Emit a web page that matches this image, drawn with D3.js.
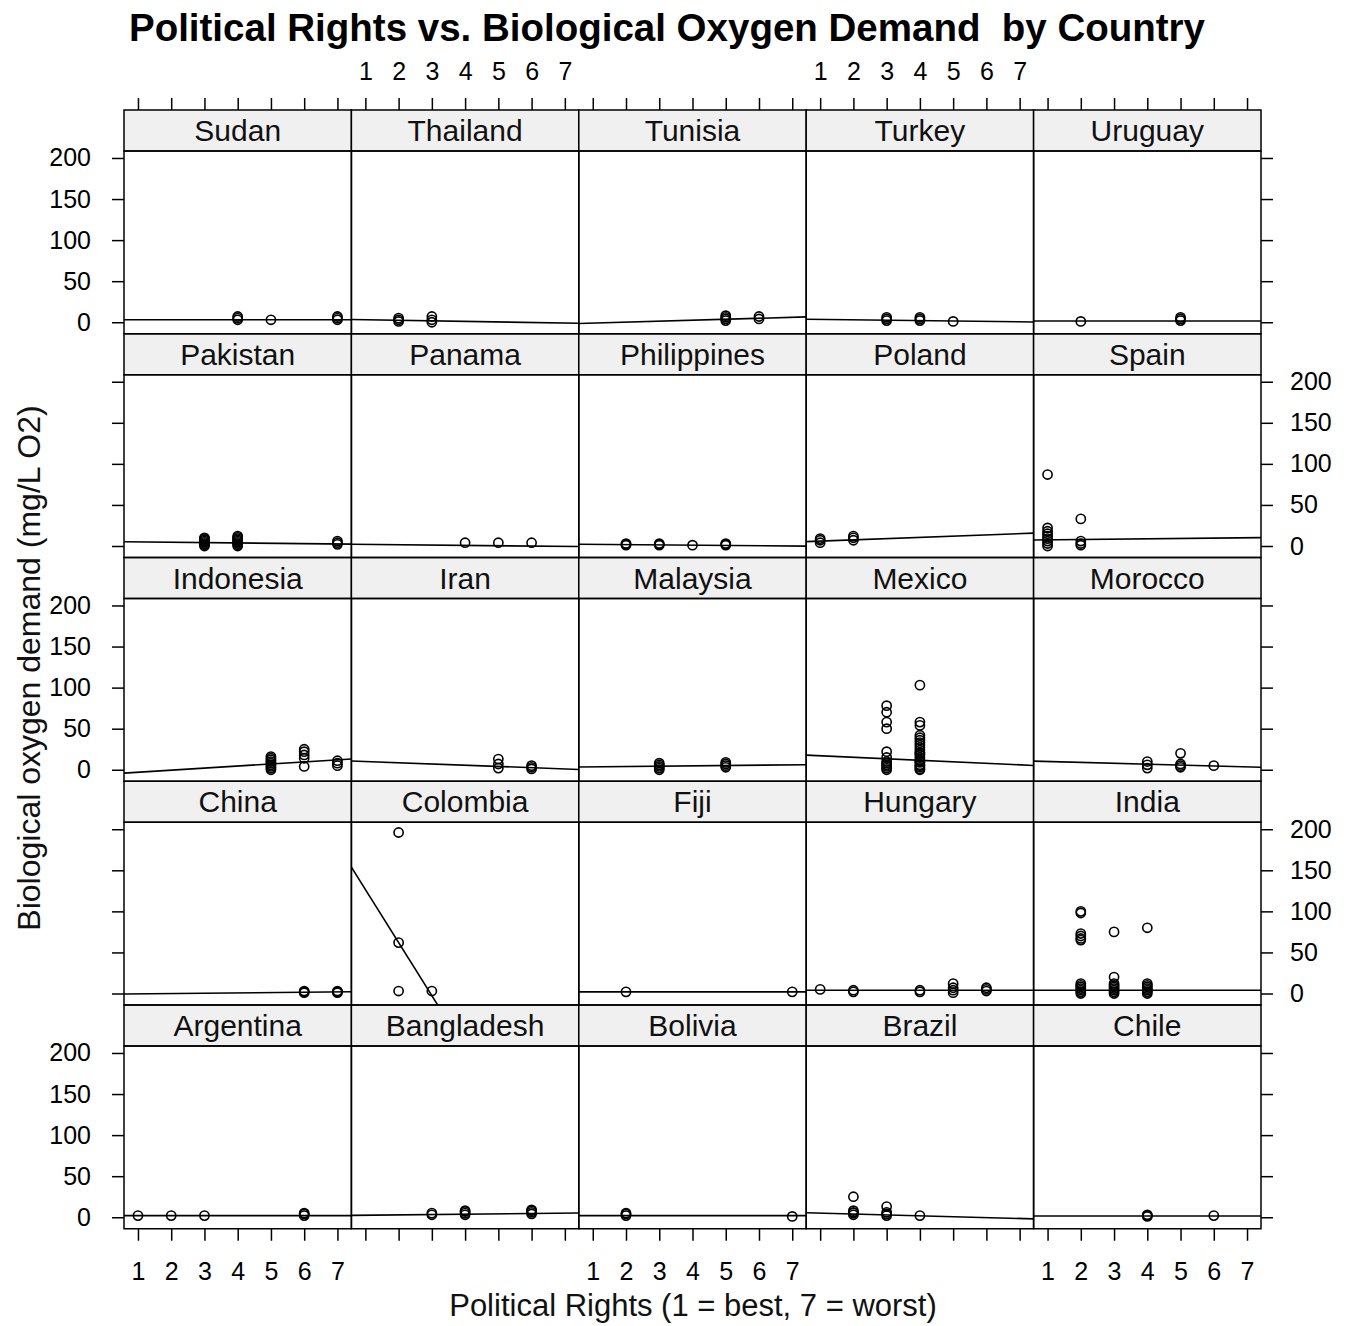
<!DOCTYPE html>
<html>
<head>
<meta charset="utf-8">
<script src="https://cdn.jsdelivr.net/npm/d3@7/dist/d3.min.js"></script>
<style>
body { margin: 0; background: #ffffff; }
svg text { font-family: "Liberation Sans", Arial, sans-serif; fill: #000; }
</style>
</head>
<body>
<div id="mainDiv"></div>
<script>

// panels in lattice order: bottom-left first, left to right, then upwards
var countries = ["Argentina","Bangladesh","Bolivia","Brazil","Chile",
                 "China","Colombia","Fiji","Hungary","India",
                 "Indonesia","Iran","Malaysia","Mexico","Morocco",
                 "Pakistan","Panama","Philippines","Poland","Spain",
                 "Sudan","Thailand","Tunisia","Turkey","Uruguay"];

// political rights score of each observation
var politicalRights = [
    [1,2,3,6,6,6],
    [3,3,4,4,4,4,6,6,6,6],
    [2,2,2,7],
    [2,2,2,2,2,3,3,3,3,4],
    [4,4,4,6],
    [6,6,6,7,7,7],
    [2,2,2,3],
    [2,7],
    [1,2,2,4,4,5,5,5,5,6,6,6],
    [2,2,2,2,2,2,2,2,2,2,2,2,2,3,3,3,3,3,3,3,3,3,4,4,4,4,4,4,4,4],
    [5,5,5,5,5,5,5,5,5,6,6,6,6,6,7,7,7],
    [5,5,5,6,6,6],
    [3,3,3,3,3,5,5,5,5],
    [3,3,3,3,3,3,3,3,3,3,3,3,4,4,4,4,4,4,4,4,4,4,4,4,4,4,4,4,4,4,4,4,4,4],
    [4,4,4,5,5,5,5,6],
    [3,3,3,3,3,3,3,3,4,4,4,4,4,4,4,4,4,7,7,7],
    [4,5,6],
    [2,2,2,3,3,3,4,5,5,5],
    [1,1,1,2,2,2],
    [1,1,1,1,1,1,1,1,1,2,2,2,2],
    [4,4,4,5,7,7,7],
    [2,2,2,3,3,3],
    [5,5,5,5,6,6],
    [3,3,3,4,4,4,5],
    [2,5,5,5]
];

// biological oxygen demand (mg/L O2), same order as politicalRights
var bodValues = [
    [2,2,2,2,4,5],
    [3,5,3,5,7,8,4,6,8,9],
    [2,4,5,1],
    [25,3,5,6,8,13,2,4,6,2],
    [1,2,3,2],
    [1,2,3,1,2,3],
    [196,62,3,3],
    [2,2],
    [5,2,4,2,4,12,7,4,1,3,5,7],
    [100,98,73,70,67,0,2,4,6,8,10,12,65,75,20,0,2,4,6,8,10,12,80,0,2,4,6,8,10,12],
    [0,2,4,6,8,10,12,14,16,4,14,18,22,25,5,8,11],
    [2,7,13,1,3,5],
    [0,2,4,6,8,3,5,7,9],
    [78,70,58,50,22,15,0,2,4,6,8,10,103,58,54,0,3,6,9,12,15,18,21,24,27,30,33,36,39,42,1,5,10,20],
    [2,6,10,20,3,5,7,5],
    [0,1.5,3,4.5,6,7.5,9,10,0,1.5,3,4.5,6,7.5,9,10.5,12,2,4,6],
    [4,4,4],
    [1,2,3,1,2,3,1,1,2,3],
    [4,7,9,7,10,12],
    [87,0,3,6,9,12,15,18,22,33,1,3,6],
    [3,5,7,3,3,5,7],
    [1,3,5,0,3,7],
    [2,4,6,8,4,7],
    [2,4,6,2,4,6,1],
    [1,2,4,6]
];

// fitted line read at political rights 1 and 7
var fitAt1 = [2, 2.5, 2, 5, 1.5,  -0.5, 126.6, 2, 4, 4,  -3, 10, 3.5, 17, 10,
              5, 2, 2, 6, 7.5,  3, 3, -1, 3.5, 1.5];
var fitAt7 = [2, 5, 2, -1.5, 1.5,  2, -261, 2, 4, 4,  12, 1, 6, 6, 3.5,
              2.5, -0.5, 0, 15, 10,  3, -1, 6, 0.5, 1.5];

var xTicks = [1,2,3,4,5,6,7];
var yTicks = [0,50,100,150,200];

var xDomain = [0.58, 7.42];
var yDomain = [-14, 208.5];

var panelLeft = 124;
var panelWidth = 227.4;
var rowTop = 110;
var rowPitch = 223.75;
var stripHeight = 41;
var panelHeight = 182.75;
var tickLen = 12;

function fitValue(i, x){
    return fitAt1[i] + (fitAt7[i] - fitAt1[i]) * (x - 1) / 6;
}

function styleAxis(g, showLabels){
    g.select(".domain").remove();
    g.selectAll(".tick line").attr("stroke", "#000").attr("stroke-width", 1.5);
    g.selectAll(".tick text").style("font-size", "25px").attr("fill", "#111");
    if(!showLabels){
        g.selectAll(".tick text").remove();
    }
}

function drawPanel(canvas, i){

    var col = i % 5;
    var rowFromTop = 4 - Math.floor(i / 5);
    var left = panelLeft + col * panelWidth;
    var stripTop = rowTop + rowFromTop * rowPitch;
    var top = stripTop + stripHeight;
    var bottom = top + panelHeight;

    var x = d3.scaleLinear().domain(xDomain).range([left, left + panelWidth]);
    var y = d3.scaleLinear().domain(yDomain).range([bottom, top]);

    // strip with country name
    canvas.append("rect").attr("x", left).attr("y", stripTop)
        .attr("width", panelWidth).attr("height", stripHeight)
        .attr("fill", "#f0f0f0").attr("stroke", "#000").attr("stroke-width", 1.5);
    canvas.append("text").attr("x", left + panelWidth / 2).attr("y", stripTop + 31)
        .attr("text-anchor", "middle").style("font-size", "30px").style("fill", "#111")
        .text(countries[i]);

    canvas.append("clipPath").attr("id", "clip_" + i)
        .append("rect").attr("x", left).attr("y", top)
        .attr("width", panelWidth).attr("height", panelHeight);

    var inner = canvas.append("g").attr("clip-path", "url(#clip_" + i + ")");

    // fitted line
    inner.append("line")
        .attr("x1", x(xDomain[0])).attr("y1", y(fitValue(i, xDomain[0])))
        .attr("x2", x(xDomain[1])).attr("y2", y(fitValue(i, xDomain[1])))
        .attr("stroke", "#000").attr("stroke-width", 1.6);

    // observations
    var pts = politicalRights[i].map(function(v, k){ return [v, bodValues[i][k]]; });
    inner.selectAll("circle.obs").data(pts).enter().append("circle")
        .attr("class", "obs")
        .attr("cx", function(d){ return x(d[0]); })
        .attr("cy", function(d){ return y(d[1]); })
        .attr("r", 4.6).attr("fill", "none")
        .attr("stroke", "#000").attr("stroke-width", 1.6);

    canvas.append("rect").attr("x", left).attr("y", top)
        .attr("width", panelWidth).attr("height", panelHeight)
        .attr("fill", "none").attr("stroke", "#000").attr("stroke-width", 1.5);

    // outer axes, labels alternate like lattice
    var fmt = d3.format("d");
    if(col == 0){
        var gl = canvas.append("g").attr("transform", "translate(" + left + ",0)")
            .call(d3.axisLeft(y).tickValues(yTicks).tickFormat(fmt).tickSize(tickLen).tickPadding(21));
        styleAxis(gl, rowFromTop % 2 == 0);
    }
    if(col == 4){
        var gr = canvas.append("g").attr("transform", "translate(" + (left + panelWidth) + ",0)")
            .call(d3.axisRight(y).tickValues(yTicks).tickFormat(fmt).tickSize(tickLen).tickPadding(17));
        styleAxis(gr, rowFromTop % 2 == 1);
    }
    if(rowFromTop == 0){
        var gt = canvas.append("g").attr("transform", "translate(0," + stripTop + ")")
            .call(d3.axisTop(x).tickValues(xTicks).tickFormat(fmt).tickSize(tickLen).tickPadding(18));
        styleAxis(gt, col % 2 == 1);
    }
    if(rowFromTop == 4){
        var gb = canvas.append("g").attr("transform", "translate(0," + bottom + ")")
            .call(d3.axisBottom(x).tickValues(xTicks).tickFormat(fmt).tickSize(tickLen).tickPadding(21));
        styleAxis(gb, col % 2 == 0);
    }
}

function loadChart(){

    var chartCanvas = d3.select("#mainDiv").append("svg")
        .attr("width", 1349).attr("height", 1326).attr("id", "mainCanvas");

    chartCanvas.append("rect").attr("width", 1349).attr("height", 1326).attr("fill", "#fff");

    chartCanvas.append("text").attr("x", 667).attr("y", 41)
        .attr("text-anchor", "middle").style("font-size", "38.5px").style("font-weight", "bold")
        .text("Political Rights vs. Biological Oxygen Demand \u00a0by Country");

    for(var i = 0; i < countries.length; i++){
        drawPanel(chartCanvas, i);
    }

    chartCanvas.append("text").attr("x", 693).attr("y", 1316)
        .attr("text-anchor", "middle").style("font-size", "31px").style("fill", "#111")
        .text("Political Rights (1 = best, 7 = worst)");

    chartCanvas.append("text").attr("transform", "translate(40,668) rotate(-90)")
        .attr("text-anchor", "middle").style("font-size", "32px").style("fill", "#111")
        .text("Biological oxygen demand (mg/L O2)");
}

loadChart();
</script>
</body>
</html>
